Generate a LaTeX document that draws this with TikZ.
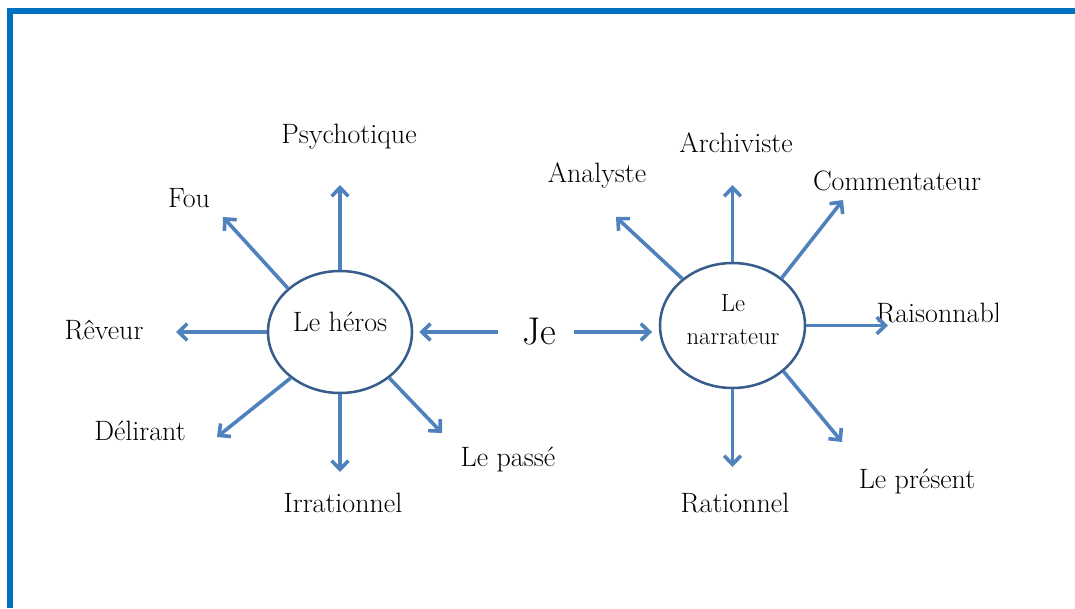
\documentclass[tikz,border=0pt]{standalone}
\usetikzlibrary{shapes.geometric,arrows.meta}
\definecolor{frameblue}{HTML}{0070C0}
\definecolor{arrowblue}{HTML}{4F81BD}
\definecolor{ringblue}{HTML}{385D8A}
\begin{document}
\begin{tikzpicture}[x=0.75pt,y=-0.75pt,
  lbl/.style={font=\fontsize{21}{25}\selectfont, inner sep=0pt, anchor=base},
  ray/.style={draw=arrowblue, line width=2.7pt, -{Straight Barb[length=6.5pt,width=12.5pt]}},
  ring/.style={ellipse, draw=ringblue, line width=1.9pt, inner sep=0pt}]
\useasboundingbox (0,0) rectangle (1075,608);
\fill[frameblue] (7,8) rectangle (1075,14);
\fill[frameblue] (7,8) rectangle (13,608);

% centre nodes
\node[ring, minimum width=108pt, minimum height=91.5pt] (heros) at (340,332) {};
\node[inner sep=0pt, anchor=base, font=\fontsize{21}{24}\selectfont] (herostxt) at (340,331) {Le héros};
\node[ring, minimum width=108.75pt, minimum height=93.75pt] (narr) at (732.5,325.5) {};
\node[inner sep=0pt, anchor=base, font=\fontsize{18.5}{21}\selectfont] (narrtxt1) at (733,311) {Le};
\node[inner sep=0pt, anchor=base, font=\fontsize{18.5}{21}\selectfont] (narrtxt2) at (733,344) {narrateur};
\node[inner sep=0pt, font=\fontsize{29}{33}\selectfont] (je) at (539,332) {Je};

% labels around le heros
\node[lbl] (psy) at (349,143) {Psychotique};
\node[lbl] (fou) at (189,207) {Fou};
\node[lbl] (rev) at (104,339) {Rêveur};
\node[lbl] (del) at (140,440) {Délirant};
\node[lbl] (irr) at (343,512) {Irrationnel};
\node[lbl] (pas) at (508,466) {Le passé};

% labels around le narrateur
\node[lbl] (arc) at (736,152) {Archiviste};
\node[lbl] (ana) at (597,182) {Analyste};
\node[lbl] (com) at (897,190) {Commentateur};
\node[lbl] (rat) at (735,512) {Rationnel};
\node[lbl] (pre) at (917,488) {Le présent};
\begin{scope}
  \clip (860,280) rectangle (997,360);
  \node[lbl, anchor=base west] (rai) at (876,322) {Raisonnable};
\end{scope}

% arrow tips
\coordinate (tPsy) at (340,185);
\coordinate (tFou) at (223,217);
\coordinate (tRev) at (176,332);
\coordinate (tDel) at (217,437);
\coordinate (tIrr) at (340,472);
\coordinate (tPas) at (442,433);
\coordinate (tArc) at (732.5,185);
\coordinate (tAna) at (616,217);
\coordinate (tCom) at (843,200);
\coordinate (tRai) at (888,325.5);
\coordinate (tRat) at (732.5,467);
\coordinate (tPre) at (842,442);

% rays of le heros
\draw[ray] (heros.north) -- (tPsy);
\draw[ray] (heros.140) -- (tFou);
\draw[ray] (heros.west) -- (tRev);
\draw[ray] (heros.223) -- (tDel);
\draw[ray] (heros.south) -- (tIrr);
\draw[ray] (heros.317) -- (tPas);

% rays of le narrateur
\draw[ray] (narr.north) -- (tArc);
\draw[ray] (narr.137) -- (tAna);
\draw[ray] (narr.44) -- (tCom);
\draw[ray] (narr.east) -- (tRai);
\draw[ray] (narr.south) -- (tRat);
\draw[ray] (narr.318) -- (tPre);

% Je arrows
\draw[ray, shorten <=18pt, shorten >=4.5pt] (je.west) -- (je.west -| heros.east);
\draw[ray, shorten <=13.5pt, shorten >=5pt] (je.east) -- (je.east -| narr.west);
\end{tikzpicture}
\end{document}
